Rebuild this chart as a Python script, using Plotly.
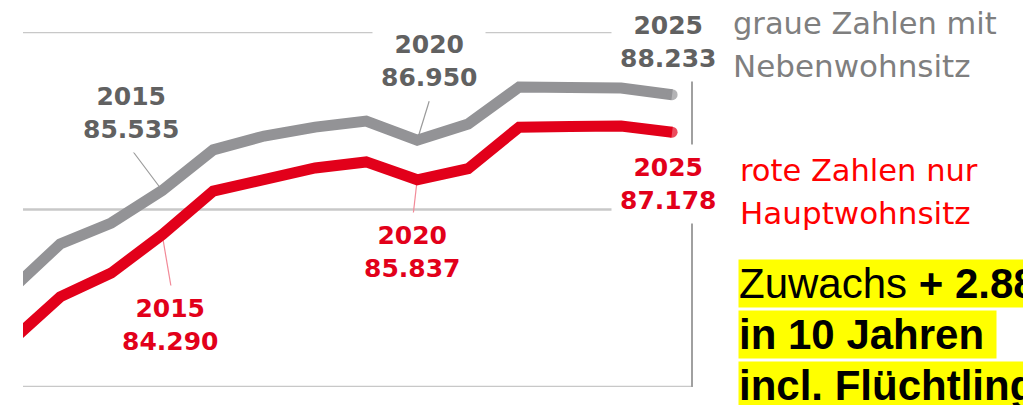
import plotly.graph_objects as go

# ---- data (inhabitants) ----
years = [2012, 2013, 2014, 2015, 2016, 2017, 2018, 2019, 2020, 2021, 2022, 2023, 2024, 2025]
grey_vals = [82690, 84030, 84620, 85535, 86680, 87070, 87320, 87490, 86950, 87410, 88450, 88440, 88420, 88233]
red_vals = [81240, 82540, 83210, 84290, 85520, 85860, 86170, 86340, 85837, 86150, 87320, 87340, 87350, 87178]
label_years = [2015, 2020, 2025]
grid_vals = [80000, 85000, 90000]

GREY = "#939396"
RED = "#e2001a"
GREY_TXT = "#616161"
RED_TXT = "#e2001a"

W, H = 1023, 405
L, R, T, B = 23, 692, 32, 387


def pxx(px):
    return (px - L) / (R - L)


def pxy(py):
    return (B - py) / (B - T)


def fmt(v):
    return f"{v:,}".replace(",", ".")


end_sizes = [0] * (len(years) - 1) + [11]
fig = go.Figure()
for vals, col in [(grey_vals, GREY), (red_vals, RED)]:
    fig.add_trace(go.Scatter(x=years, y=vals, mode="lines+markers",
                             line=dict(color=col, width=11),
                             marker=dict(color=col, size=end_sizes, line=dict(width=0)),
                             hoverinfo="skip"))

shapes = []
for g in grid_vals:
    shapes.append(dict(type="line", xref="paper", yref="y", x0=0, x1=1, y0=g, y1=g,
                       line=dict(color="#c8c8c8", width=2.5), layer="below"))
shapes.append(dict(type="line", xref="paper", yref="paper", x0=1, x1=1, y0=0, y1=1,
                   line=dict(color="#a0a0a0", width=2), layer="below"))

# leader lines (pixel offsets from the data point)
grey_leaders = {2015: (-30, 40), 2020: (12, 39)}
red_leaders = {2015: (9, -53), 2020: (-4, -35)}
for vals, leaders, col in [(grey_vals, grey_leaders, "#9a9a9a"), (red_vals, red_leaders, "#f28a98")]:
    for yr, (dx, dy) in leaders.items():
        v = vals[years.index(yr)]
        shapes.append(dict(type="line", xref="x", yref="y", xsizemode="pixel", ysizemode="pixel",
                           xanchor=yr, yanchor=v, x0=0, y0=0, x1=dx, y1=dy,
                           line=dict(color=col, width=1.2), layer="below"))

annotations = []
grey_offsets = {2015: (-31, 78), 2020: (12, 79), 2025: (-4, 53)}
red_offsets = {2015: (8, -90), 2020: (-5, -72), 2025: (-4, -52)}
for vals, offs, col in [(grey_vals, grey_offsets, GREY_TXT), (red_vals, red_offsets, RED_TXT)]:
    for yr in label_years:
        v = vals[years.index(yr)]
        dx, dy = offs[yr]
        annotations.append(dict(x=yr, y=v, xref="x", yref="y", showarrow=False,
                                text=f"{yr}<br>{fmt(v)}", xanchor="center", yanchor="middle",
                                xshift=dx, yshift=dy, bgcolor="white", borderpad=8,
                                font=dict(family="DejaVu Sans", size=25, color=col, weight="bold")))

# side notes
NOTE_FONT = "DejaVu Sans"
annotations += [
    dict(x=pxx(731), y=pxy(23), xref="paper", yref="paper", showarrow=False, xanchor="left",
         yanchor="middle", text="graue Zahlen mit", font=dict(family=NOTE_FONT, size=30.5, color="#7f7f7f")),
    dict(x=pxx(731), y=pxy(66), xref="paper", yref="paper", showarrow=False, xanchor="left",
         yanchor="middle", text="Nebenwohnsitz", font=dict(family=NOTE_FONT, size=31, color="#7f7f7f")),
    dict(x=pxx(738), y=pxy(170), xref="paper", yref="paper", showarrow=False, xanchor="left",
         yanchor="middle", text="rote Zahlen nur", font=dict(family=NOTE_FONT, size=30.5, color="#ff0000")),
    dict(x=pxx(738), y=pxy(213), xref="paper", yref="paper", showarrow=False, xanchor="left",
         yanchor="middle", text="Hauptwohnsitz", font=dict(family=NOTE_FONT, size=31, color="#ff0000")),
]
yellow_lines = ["Zuwachs <b>+ 2.888</b>", "<b>in 10 Jahren\u00a0</b>", "<b>incl. Flüchtlinge</b>"]
yellow_tops = [259, 310, 361]
for txt, top in zip(yellow_lines, yellow_tops):
    annotations.append(dict(x=pxx(738), y=pxy(top), xref="paper", yref="paper", showarrow=False,
                            xanchor="left", yanchor="top", text=txt, bgcolor="#ffff00", borderpad=0,
                            font=dict(family="Liberation Sans", size=42, color="black")))

fig.update_layout(
    width=W, height=H,
    margin=dict(l=L, r=W - R, t=T, b=H - B, pad=0),
    paper_bgcolor="white", plot_bgcolor="white",
    showlegend=False,
    xaxis=dict(range=[2012.27, 2025.39], visible=False, fixedrange=True),
    yaxis=dict(range=[80000, 90000], visible=False, fixedrange=True),
    shapes=shapes, annotations=annotations,
)
fig.write_html("out.html", config={"displayModeBar": False})
